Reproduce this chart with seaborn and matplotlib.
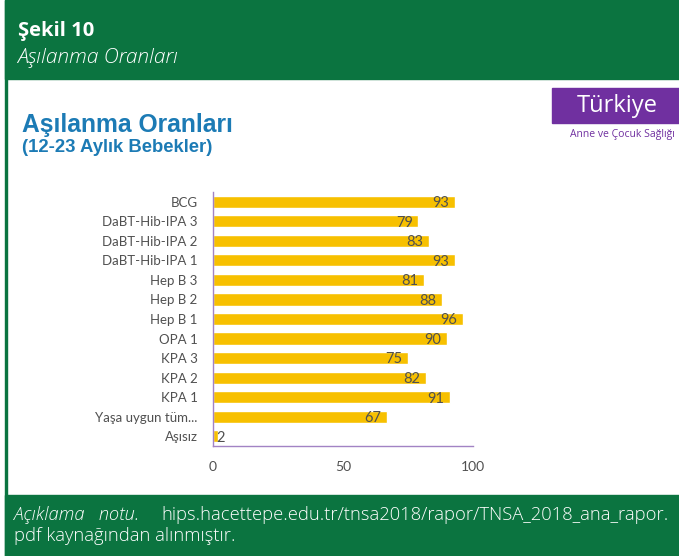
import seaborn as sns
from matplotlib import pyplot as plt
from matplotlib.patches import Rectangle
import pandas as pd

# chart data
categories = ['BCG', 'DaBT-Hib-IPA 3', 'DaBT-Hib-IPA 2', 'DaBT-Hib-IPA 1',
              'Hep B 3', 'Hep B 2', 'Hep B 1', 'OPA 1', 'KPA 3', 'KPA 2',
              'KPA 1', 'Yaşa uygun tüm...', 'Aşısız']
rates = [93, 79, 83, 93, 81, 88, 96, 90, 75, 82, 91, 67, 2]
xticks = [0, 50, 100]

GREEN = '#0b7440'
BLUE = '#1c7bb5'
PURPLE = '#7030a0'
BAR = '#f7c000'
TXT = '#505050'

sns.set_style('white')
plt.rcParams['font.family'] = ['Lato', 'DejaVu Sans']

df = pd.DataFrame({'asi': categories, 'oran': rates})

fig = plt.figure(figsize=(6.79, 5.56), dpi=100)

# green header and footer bands
fig.patches.append(Rectangle((5/679, 1-79/556), 1, 79/556, transform=fig.transFigure,
                             color=GREEN, zorder=0))
fig.patches.append(Rectangle((5/679, 0), 1, 61/556, transform=fig.transFigure,
                             color=GREEN, zorder=0))
fig.patches.append(Rectangle((5/679, 0), 1.5/679, 1, transform=fig.transFigure,
                             color=GREEN, zorder=0))

fig.text(18/679, 1-36/556, 'Şekil 10', color='white', fontsize=14.5, fontweight='bold',
         family='Open Sans', va='baseline')
fig.text(17/679, 1-63/556, 'Aşılanma Oranları', color='white', fontsize=15,
         style='italic', family='Open Sans', fontweight='light', va='baseline')

# footer note
fig.text(14/679, 1-520/556, 'Açıklama   notu.', color='white', fontsize=13.2,
         style='italic', family='Open Sans', fontweight='light', va='baseline')
fig.text(161/679, 1-520/556, 'hips.hacettepe.edu.tr/tnsa2018/rapor/TNSA_2018_ana_rapor.',
         color='white', fontsize=13.2, family='Open Sans', fontweight='light', va='baseline')
fig.text(14/679, 1-541/556, 'pdf kaynağından alınmıştır.', color='white', fontsize=13.2,
         family='Open Sans', fontweight='light', va='baseline')

# chart title
fig.text(22/679, 1-125/556, 'Aşılanma Oranları', color=BLUE, fontsize=17.7,
         fontweight='bold', family='Liberation Sans', va='center')
fig.text(22/679, 1-147/556, '(12-23 Aylık Bebekler)', color=BLUE, fontsize=13.3,
         fontweight='bold', family='Liberation Sans', va='center')

# Türkiye badge
fig.patches.append(Rectangle((552/679, 1-123/556), 127/679, 35/556,
                             transform=fig.transFigure, color=PURPLE, zorder=0))
fig.text(617/679, 1-106/556, 'Türkiye', color='white', fontsize=17, ha='center',
         va='center', family='Open Sans')
fig.text(622/679, 1-135/556, 'Anne ve Çocuk Sağlığı', color=PURPLE, fontsize=7.5,
         ha='center', va='center', family='Open Sans')

ax = fig.add_axes([213/679, 110/556, 260/679, 254/556])
sns.barplot(data=df, y='asi', x='oran', color=BAR, saturation=1, width=0.62, ax=ax)

for i, v in enumerate(rates):
    if v < 5:
        ax.annotate(str(v), (v, i), xytext=(-1, -1), textcoords='offset points',
                    ha='left', va='center', color=TXT, fontsize=10.5)
    else:
        ax.annotate(str(v), (v, i), xytext=(-4, -1), textcoords='offset points',
                    ha='right', va='center', color=TXT, fontsize=10.5)

ax.set_xlim(0, 100)
ax.set_ylim(len(categories) - 0.5, -0.5)
ax.set_xticks(xticks)
ax.set_xlabel('')
ax.set_ylabel('')
ax.tick_params(axis='x', length=0, pad=11, labelsize=10, labelcolor=TXT)
ax.tick_params(axis='y', length=0, pad=11, labelsize=9.5, labelcolor=TXT)
sns.despine(ax=ax)
for s in ('left', 'bottom'):
    ax.spines[s].set_color('#a283c4')
    ax.spines[s].set_linewidth(1)

fig.savefig('out.png', dpi=100)
